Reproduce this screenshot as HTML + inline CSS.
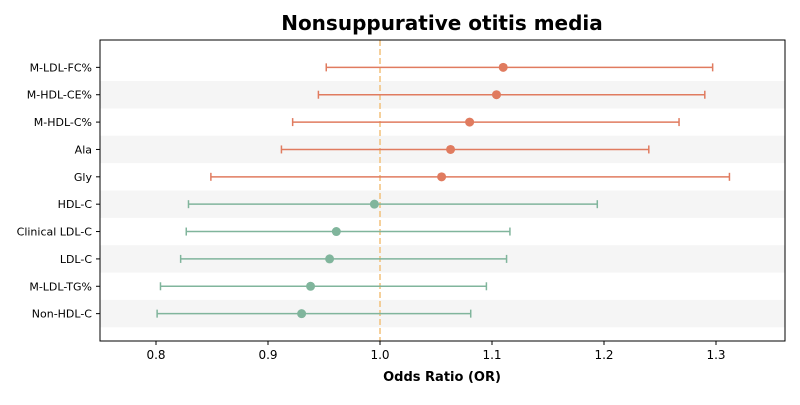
<!DOCTYPE html>
<html><head><meta charset="utf-8"><style>
body{margin:0;background:#fff;font-family:"Liberation Sans","DejaVu Sans",sans-serif}
svg text{font-family:"DejaVu Sans","Liberation Sans",sans-serif}
</style></head><body>
<svg id="chart" width="800" height="400"></svg>
<script>
const labels=["Non-HDL-C","M-LDL-TG%","LDL-C","Clinical LDL-C","HDL-C","Gly","Ala","M-HDL-C%","M-HDL-CE%","M-LDL-FC%"];
const orValues=[0.930,0.938,0.955,0.961,0.995,1.055,1.063,1.080,1.104,1.110];
const lowerCI=[0.801,0.804,0.822,0.827,0.829,0.849,0.912,0.922,0.945,0.952];
const upperCI=[1.081,1.095,1.113,1.116,1.194,1.312,1.240,1.267,1.290,1.297];
const xTicks=[0.8,0.9,1.0,1.1,1.2,1.3];
const NS="http://www.w3.org/2000/svg";
const svg=document.getElementById('chart');
const L=100,R=785,T=40,B=341,xmin=0.7500,xmax=1.3616,ymin=-1,ymax=10;
const xs=v=>L+(v-xmin)/(xmax-xmin)*(R-L);
const ys=i=>B-(i-ymin)/(ymax-ymin)*(B-T);
function el(t,a,p){const e=document.createElementNS(NS,t);for(const k in a)e.setAttribute(k,a[k]);(p||svg).appendChild(e);return e;}
const title=el('text',{x:442,y:30,'text-anchor':'middle','font-size':20,'font-weight':'bold',fill:'#000'});
title.textContent='Nonsuppurative otitis media';


labels.forEach((lab,i)=>{
 if(i%2===0){const b=el('rect',{x:L,y:ys(i)-13.7,width:R-L,height:27.4,fill:'#f5f5f5'});
  
  }
});
const ref=el('line',{x1:xs(1),x2:xs(1),y1:T,y2:B,stroke:'#f2c07a','stroke-width':1.5,'stroke-dasharray':'6,3'});


labels.forEach((lab,i)=>{
 const c=i>=5?'#e07b5f':'#80b59c';const y=ys(i);
 const g=el('g',{});
 
 
 el('line',{x1:xs(lowerCI[i]),x2:xs(upperCI[i]),y1:y,y2:y,stroke:c,'stroke-width':1.5},g);
 el('line',{x1:xs(lowerCI[i]),x2:xs(lowerCI[i]),y1:y-4,y2:y+4,stroke:c,'stroke-width':1.5},g);
 el('line',{x1:xs(upperCI[i]),x2:xs(upperCI[i]),y1:y-4,y2:y+4,stroke:c,'stroke-width':1.5},g);
 el('circle',{cx:xs(orValues[i]),cy:y,r:4.5,fill:c},g);
 el('line',{x1:L-4,x2:L,y1:y,y2:y,stroke:'#000'});
 const t=el('text',{x:L-8,y:y+4,'text-anchor':'end','font-size':11,fill:'#000'});t.textContent=lab;
 
 
});
const frame=el('rect',{x:L,y:T,width:R-L,height:B-T,fill:'none',stroke:'#000','stroke-width':1});


xTicks.forEach(v=>{
 el('line',{x1:xs(v),x2:xs(v),y1:B,y2:B+4,stroke:'#000'});
 const t=el('text',{x:xs(v),y:B+18,'text-anchor':'middle','font-size':12,fill:'#000'});t.textContent=v.toFixed(1);
 
 
});
const xt=el('text',{x:442,y:381,'text-anchor':'middle','font-size':13,'font-weight':'bold',fill:'#000'});
xt.textContent='Odds Ratio (OR)';


</script>
</body></html>
